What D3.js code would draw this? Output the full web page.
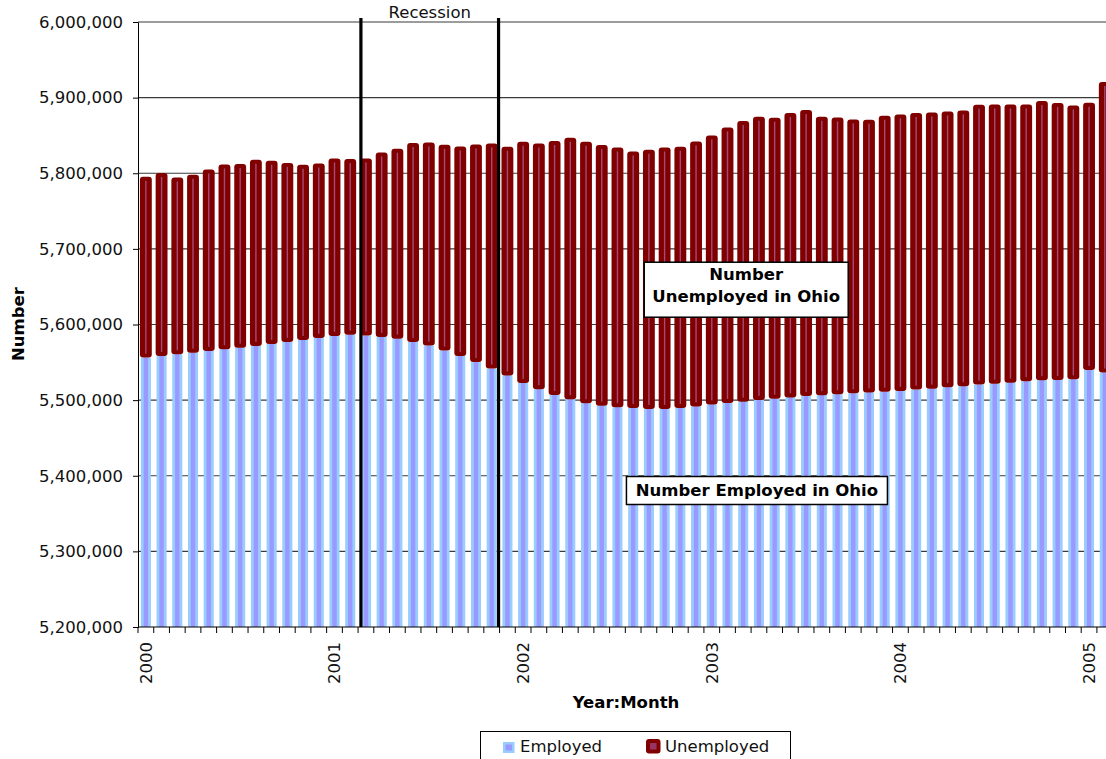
<!DOCTYPE html>
<html>
<head>
<meta charset="utf-8">
<script src="https://cdnjs.cloudflare.com/ajax/libs/d3/7.8.5/d3.min.js"></script>
<style>
    body{margin:0;background:#fff;overflow:hidden;}
    svg{display:block;font-family:'DejaVu Sans',Verdana,sans-serif;}
</style>
</head>
<body>
<div id="graphWrapper"></div>
<script>
//data - one bar per month, Jan 2000 .. Feb 2005
const MONTHS = [
    '2000:01','2000:02','2000:03','2000:04','2000:05','2000:06','2000:07','2000:08','2000:09','2000:10','2000:11','2000:12',
    '2001:01','2001:02','2001:03','2001:04','2001:05','2001:06','2001:07','2001:08','2001:09','2001:10','2001:11','2001:12',
    '2002:01','2002:02','2002:03','2002:04','2002:05','2002:06','2002:07','2002:08','2002:09','2002:10','2002:11','2002:12',
    '2003:01','2003:02','2003:03','2003:04','2003:05','2003:06','2003:07','2003:08','2003:09','2003:10','2003:11','2003:12',
    '2004:01','2004:02','2004:03','2004:04','2004:05','2004:06','2004:07','2004:08','2004:09','2004:10','2004:11','2004:12',
    '2005:01','2005:02'
];

//number employed in Ohio
const EMPLOYED = [
    5556200,5558500,5560700,5562800,5565100,5567300,5569400,5571700,5574300,5577000,5579600,5582300,
    5584900,5586600,5585300,5583600,5581300,5577000,5572100,5565500,5558500,5550500,5541700,5532700,
    5522800,5514400,5506900,5501200,5495900,5492700,5490600,5489700,5488400,5488400,5489700,5491700,
    5494300,5496300,5498000,5500300,5501900,5503600,5505300,5506600,5507800,5509100,5510200,5511200,
    5512200,5513900,5515200,5517100,5518400,5520500,5521800,5523100,5525000,5526300,5526700,5527600,
    5539900,5536400
];

//number unemployed in Ohio (stacked on top of employed)
const UNEMPLOYED = [
    239200,241800,233700,235200,239900,244300,242800,246200,242200,236500,231600,230700,
    234700,232200,234300,243900,251100,263000,268600,272200,277000,287600,297700,302400,
    318900,325000,335700,345800,345800,344600,343500,339100,342700,345700,345400,350400,
    355700,364300,371000,374400,371500,376000,378300,368100,366000,362100,360600,364900,
    365600,365700,365200,364600,364700,370100,369200,367900,366000,369200,366200,362100,
    353400,384200
];

const YEAR_TICKS = ['2000:01','2001:01','2002:01','2003:01','2004:01','2005:01'];
const YEAR_LABELS = ['2000','2001','2002','2003','2004','2005'];
const Y_TICKS = [5200000,5300000,5400000,5500000,5600000,5700000,5800000,5900000,6000000];
const RECESSION = ['2001:03','2001:11'];   //first and last month of the recession
const SERIES = ['Employed','Unemployed'];

const CONSTANTS = {
    WIDTH:1106,
    HEIGHT:759,
    LEFT:138,          //x of the y axis
    TOP:22,            //y of the 6,000,000 line
    BOTTOM:627,        //y of the x axis
    STEP:15.72,        //width of one month
    FONT:'16.5px'
};

function main(){
    let svg = d3.select('#graphWrapper')
        .append('svg')
        .attr('width',CONSTANTS.WIDTH)
        .attr('height',CONSTANTS.HEIGHT);

    let scales = buildScales();

    buildGrid(svg,scales);
    buildBars(svg,scales);
    buildAxis(svg,scales);
    buildRecession(svg,scales);
    buildNotes(svg,scales);
    buildLegend(svg);
}

//scales - band for the months, linear for the counts
function buildScales(){
    let x = d3.scaleBand()
        .domain(MONTHS)
        .range([CONSTANTS.LEFT, CONSTANTS.LEFT + MONTHS.length*CONSTANTS.STEP])
        .paddingInner(0.36)
        .paddingOuter(0.18);

    let y = d3.scaleLinear()
        .domain([Y_TICKS[0], Y_TICKS[Y_TICKS.length-1]])
        .range([CONSTANTS.BOTTOM, CONSTANTS.TOP]);

    return {x:x, y:y};
}

function buildGrid(svg,scales){
    svg.append('g')
        .selectAll('line')
        .data(Y_TICKS.slice(1))
        .enter()
        .append('line')
        .attr('x1',CONSTANTS.LEFT)
        .attr('x2',CONSTANTS.WIDTH)
        .attr('y1',d=>scales.y(d))
        .attr('y2',d=>scales.y(d))
        .attr('stroke','#3a3a3a')
        .attr('stroke-width',1.2);
}

function buildBars(svg,scales){
    let x = scales.x, y = scales.y;
    let bw = x.bandwidth();
    let base = Y_TICKS[0];

    //employed bars, light blue with a lavender core
    let emp = svg.append('g').selectAll('g')
        .data(MONTHS)
        .enter()
        .append('g');

    emp.append('rect')
        .attr('x',d=>x(d))
        .attr('width',bw)
        .attr('y',(d,i)=>y(EMPLOYED[i]))
        .attr('height',(d,i)=>y(base) - y(EMPLOYED[i]))
        .attr('fill','#99ccff');

    emp.append('rect')
        .attr('x',d=>x(d) + bw/2 - 2.2)
        .attr('width',4.4)
        .attr('y',(d,i)=>y(EMPLOYED[i]))
        .attr('height',(d,i)=>y(base) - y(EMPLOYED[i]))
        .attr('fill','#9999ff');

    //unemployed bars stacked on top, dark red with a thin pink core
    let unemp = svg.append('g').selectAll('g')
        .data(MONTHS)
        .enter()
        .append('g');

    unemp.append('rect')
        .attr('x',d=>x(d) - 0.9)
        .attr('width',bw + 1.8)
        .attr('y',(d,i)=>y(EMPLOYED[i] + UNEMPLOYED[i]))
        .attr('height',(d,i)=>y(EMPLOYED[i]) - y(EMPLOYED[i] + UNEMPLOYED[i]))
        .attr('rx',3)
        .attr('fill','#800000');

    unemp.append('rect')
        .attr('x',d=>x(d) + bw/2 - 0.7)
        .attr('width',1.4)
        .attr('y',(d,i)=>y(EMPLOYED[i] + UNEMPLOYED[i]) + 4)
        .attr('height',(d,i)=>Math.max(0, y(EMPLOYED[i]) - y(EMPLOYED[i] + UNEMPLOYED[i]) - 8))
        .attr('fill','#a34a78');
}

function buildAxis(svg,scales){
    let x = scales.x, y = scales.y;
    let half = (x.step() - x.bandwidth())/2;

    //y axis
    let yAxis = d3.axisLeft(y)
        .tickValues(Y_TICKS)
        .tickFormat(d3.format(','))
        .tickSize(5)
        .tickPadding(10);

    let gy = svg.append('g')
        .attr('transform','translate(' + CONSTANTS.LEFT + ',0)')
        .call(yAxis);
    gy.select('.domain').attr('stroke','#000');
    gy.selectAll('text')
        .style('font-size',CONSTANTS.FONT)
        .style('font-family',"'DejaVu Sans',Verdana,sans-serif")
        .attr('fill','#111');

    //x axis line and a tick between every month
    svg.append('line')
        .attr('x1',CONSTANTS.LEFT)
        .attr('x2',CONSTANTS.WIDTH)
        .attr('y1',y(Y_TICKS[0]))
        .attr('y2',y(Y_TICKS[0]))
        .attr('stroke','#000');

    svg.append('g')
        .selectAll('line')
        .data(MONTHS)
        .enter()
        .append('line')
        .attr('x1',d=>x(d) - half)
        .attr('x2',d=>x(d) - half)
        .attr('y1',y(Y_TICKS[0]))
        .attr('y2',y(Y_TICKS[0]) + 6)
        .attr('stroke','#000');

    //year labels, rotated
    svg.append('g')
        .selectAll('text')
        .data(YEAR_TICKS)
        .enter()
        .append('text')
        .attr('transform',d=>'translate(' + (x(d) + x.bandwidth()/2) + ',' + (y(Y_TICKS[0]) + 15) + ') rotate(-90)')
        .attr('text-anchor','end')
        .attr('dy','0.36em')
        .style('font-size',CONSTANTS.FONT)
        .attr('fill','#111')
        .text((d,i)=>YEAR_LABELS[i]);

    //axis titles
    svg.append('text')
        .attr('x',626)
        .attr('y',708)
        .attr('text-anchor','middle')
        .style('font-size',CONSTANTS.FONT)
        .style('font-weight','bold')
        .text('Year:Month');

    svg.append('text')
        .attr('transform','translate(24,324) rotate(-90)')
        .attr('text-anchor','middle')
        .style('font-size',CONSTANTS.FONT)
        .style('font-weight','bold')
        .text('Number');
}

//two heavy black lines marking the recession
function buildRecession(svg,scales){
    let x = scales.x, y = scales.y;
    let half = (x.step() - x.bandwidth())/2;
    let xs = [x(RECESSION[0]), x(RECESSION[1]) + x.bandwidth() + half - 1];

    svg.append('g')
        .selectAll('line')
        .data(xs)
        .enter()
        .append('line')
        .attr('x1',d=>d)
        .attr('x2',d=>d)
        .attr('y1',CONSTANTS.TOP - 4)
        .attr('y2',y(Y_TICKS[0]))
        .attr('stroke','#000')
        .attr('stroke-width',3.2);

    svg.append('text')
        .attr('x',(xs[0] + xs[1])/2)
        .attr('y',18)
        .attr('text-anchor','middle')
        .style('font-size',CONSTANTS.FONT)
        .attr('fill','#111')
        .text('Recession');
}

//boxed labels inside the plot
function buildNotes(svg,scales){
    let x = scales.x, y = scales.y;
    let notes = [
        {lines:['Number','Unemployed in Ohio'], month:'2003:03', value:5646000, w:204, h:55, dx:3},
        {lines:['Number Employed in Ohio'], month:'2003:04', value:5380500, w:261, h:28, dx:-2}
    ];

    notes.forEach(n=>{
        let cx = x(n.month) + x.bandwidth()/2 + n.dx;
        let cy = y(n.value);
        let g = svg.append('g');
        g.append('rect')
            .attr('x',cx - n.w/2)
            .attr('y',cy - n.h/2)
            .attr('width',n.w)
            .attr('height',n.h)
            .attr('fill','#fff')
            .attr('stroke','#000')
            .attr('stroke-width',1.5);
        n.lines.forEach((t,i)=>{
            g.append('text')
                .attr('x',cx)
                .attr('y',cy - n.h/2 + 19 + i*21.5 - (n.lines.length==1 ? -0.5 : 1))
                .attr('text-anchor','middle')
                .style('font-size',CONSTANTS.FONT)
                .style('font-weight','bold')
                .text(t);
        });
    });
}

function buildLegend(svg){
    let g = svg.append('g');
    g.append('rect')
        .attr('x',480.5)
        .attr('y',731.5)
        .attr('width',310)
        .attr('height',40)
        .attr('fill','#fff')
        .attr('stroke','#000');

    let items = g.selectAll('g')
        .data(SERIES)
        .enter()
        .append('g')
        .attr('transform',(d,i)=>'translate(' + (i==0 ? 503 : 646) + ',0)');

    //employed swatch
    items.filter((d,i)=>i==0).append('rect')
        .attr('x',0).attr('y',742).attr('width',11.5).attr('height',11)
        .attr('fill','#99ccff');
    items.filter((d,i)=>i==0).append('rect')
        .attr('x',2.5).attr('y',744.5).attr('width',6.5).attr('height',6)
        .attr('fill','#9999ff');

    //unemployed swatch
    items.filter((d,i)=>i==1).append('rect')
        .attr('x',0).attr('y',739).attr('width',14.5).attr('height',14.5)
        .attr('rx',3)
        .attr('fill','#800000');
    items.filter((d,i)=>i==1).append('rect')
        .attr('x',4).attr('y',743).attr('width',6.5).attr('height',6.5)
        .attr('fill','#993366');

    items.append('text')
        .attr('x',(d,i)=>i==0 ? 17 : 19)
        .attr('y',752)
        .style('font-size',CONSTANTS.FONT)
        .attr('fill','#111')
        .text(d=>d);
}

main();
</script>
</body>
</html>
